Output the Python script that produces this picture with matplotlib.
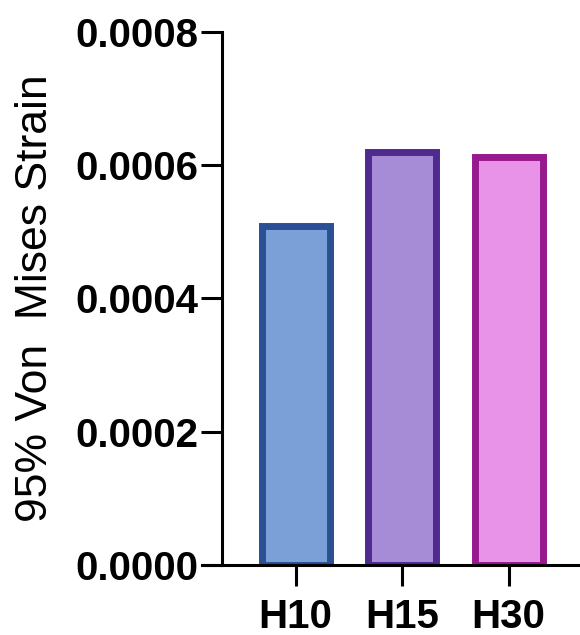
import matplotlib
matplotlib.use("Agg")
import matplotlib.pyplot as plt

plt.rcParams['font.family'] = ['Liberation Sans', 'DejaVu Sans']

# data
groups = ['H10', 'H15', 'H30']
strain = [0.000509, 0.000620, 0.000612]
fills = ['#7ba0d8', '#a68bd6', '#e993e8']
edges = ['#2a4f94', '#4f2a8f', '#97198e']
yticks = [0.0, 0.0002, 0.0004, 0.0006, 0.0008]

fig = plt.figure(figsize=(5.8, 6.35), dpi=100)
ax = fig.add_axes([0.383, 0.110, 0.617, 0.840])

x = range(len(groups))
ax.bar(x, strain, width=0.64, color=fills, edgecolor=edges, linewidth=5)

ax.set_xlim(-0.69, 2.67)
ax.set_ylim(0, 0.0008)
ax.set_yticks(yticks)
ax.set_yticklabels([f'{v:.4f}' for v in yticks], fontsize=29, fontweight='bold')
ax.set_xticks(list(x))
ax.set_xticklabels(groups, fontsize=29, fontweight='bold')

ax.set_ylabel('95% Von  Mises Strain', fontsize=32, labelpad=14)

for s in ['top', 'right']:
    ax.spines[s].set_visible(False)
ax.spines['left'].set_linewidth(2.2)
ax.spines['bottom'].set_linewidth(2.2)
ax.spines['bottom'].set_bounds(-0.69 - 0.19, 2.67)
ax.spines['bottom'].set_clip_on(False)
ax.tick_params(axis='y', length=15, width=2.2, pad=2)
ax.tick_params(axis='x', length=15, width=2.2, pad=9)

fig.savefig('out.png', dpi=100)
